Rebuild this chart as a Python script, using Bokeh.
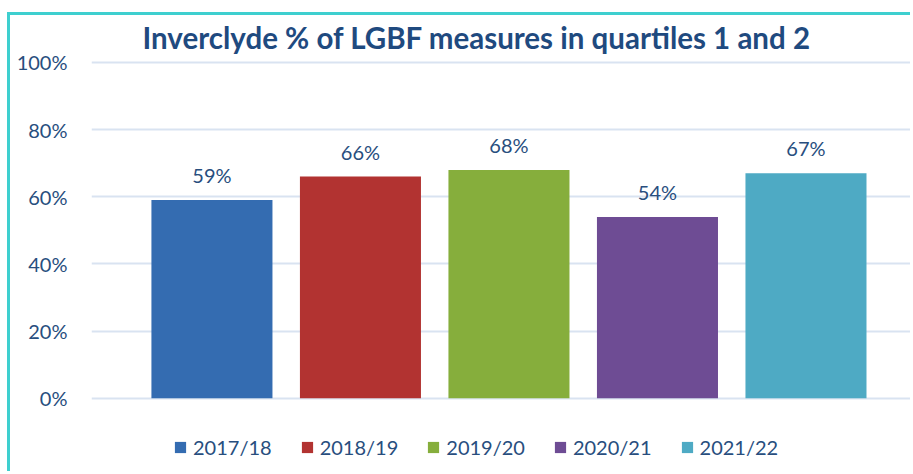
from bokeh.plotting import figure
from bokeh.models import Legend, LegendItem, PrintfTickFormatter, FixedTicker, Range1d
from bokeh.core.properties import value
from bokeh.embed import file_html
from bokeh.resources import INLINE

# ---- data ----
years = ["2017/18", "2018/19", "2019/20", "2020/21", "2021/22"]
percent = [59, 66, 68, 54, 67]
colors = ["#346CB1", "#B23331", "#86AE3C", "#6E4C94", "#4EAAC4"]
y_ticks = [0, 20, 40, 60, 80, 100]
title_text = "Inverclyde % of LGBF measures in quartiles 1 and 2"

TEXT = "#284E7E"
FONT = "Lato"
TEAL = "#3ECFCF"

p = figure(width=903, height=459, output_backend="svg", toolbar_location=None,
           x_range=Range1d(-0.811, 4.724), y_range=Range1d(-21.83, 101.77),
           min_border_left=81, min_border_right=0, min_border_top=37, min_border_bottom=3,
           title=title_text)
p.margin = (12, 0, 0, 7)
p.styles = {"border-left": f"3px solid {TEAL}", "border-top": f"3px solid {TEAL}"}
p.outline_line_color = None
p.background_fill_color = "white"
p.border_fill_color = "white"

p.title.text_font = FONT
p.title.text_font_size = "29.5px"
p.title.text_font_style = "bold"
p.title.text_color = "#1F4A7F"
p.title.align = "left"
p.title.offset = 51
p.title.standoff = 4

items = []
for i, (yr, v, c) in enumerate(zip(years, percent, colors)):
    r = p.vbar(x=[i], top=[v], bottom=0, width=0.815, fill_color=c, line_color=None)
    items.append(LegendItem(label=yr, renderers=[r]))

p.text(x=list(range(len(years))), y=percent, text=[f"{v}%" for v in percent],
       text_font=value(FONT), text_font_size="20px", text_color=TEXT,
       text_align="center", text_baseline="middle", y_offset=-25)

p.xaxis.visible = False
p.xgrid.grid_line_color = None
p.ygrid.grid_line_color = "#D9E3F1"
p.ygrid.grid_line_width = 2
p.yaxis.ticker = FixedTicker(ticks=y_ticks)
p.yaxis.formatter = PrintfTickFormatter(format="%d%%")
p.yaxis.axis_line_color = None
p.yaxis.major_tick_line_color = None
p.yaxis.minor_tick_line_color = None
p.yaxis.major_label_text_font = FONT
p.yaxis.major_label_text_font_size = "20px"
p.yaxis.major_label_text_color = TEXT
p.yaxis.major_label_standoff = 18

legend = Legend(items=items, orientation="horizontal", location=(82, 12),
                label_text_font=FONT, label_text_font_size="20px", label_text_color=TEXT,
                glyph_width=14, glyph_height=14, label_standoff=6, spacing=28,
                padding=0, margin=0, border_line_color=None, background_fill_alpha=0)
p.add_layout(legend)

open("out.html", "w").write(file_html(p, INLINE))
